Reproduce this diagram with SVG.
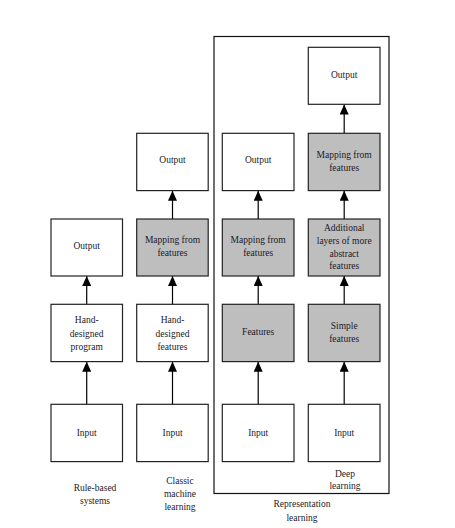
<svg xmlns="http://www.w3.org/2000/svg" width="455" height="528" viewBox="0 0 455 528">
<style>
.box{stroke:#222;stroke-width:1.2;fill:#fff}
.g{fill:#bebebe}
text{font-family:"Liberation Serif","DejaVu Serif",serif;font-size:9.5px;fill:#1a1a2a;text-anchor:middle}
.c line{stroke:#000;stroke-width:1.2}
</style>
<defs>
<marker id="ah" markerWidth="10" markerHeight="9" refX="10" refY="4.5" orient="auto" markerUnits="userSpaceOnUse" viewBox="0 0 10 9">
<path d="M0,0 L10,4.5 L0,9 Z" fill="#000"/>
</marker>
</defs>
<rect width="455" height="528" fill="#fff"/>
<g id="frame"><rect x="214" y="36.5" width="175" height="457" fill="none" stroke="#111" stroke-width="1.2"/></g>
<g class="c" id="connectors">
<line x1="86.7" y1="404.3" x2="86.7" y2="361.7" marker-end="url(#ah)"/>
<line x1="86.7" y1="304.3" x2="86.7" y2="276" marker-end="url(#ah)"/>
<line x1="172.5" y1="404.3" x2="172.5" y2="361.7" marker-end="url(#ah)"/>
<line x1="172.5" y1="304.3" x2="172.5" y2="276" marker-end="url(#ah)"/>
<line x1="172.5" y1="219" x2="172.5" y2="190.7" marker-end="url(#ah)"/>
<line x1="258.2" y1="404.3" x2="258.2" y2="361.7" marker-end="url(#ah)"/>
<line x1="258.2" y1="304.3" x2="258.2" y2="276" marker-end="url(#ah)"/>
<line x1="258.2" y1="219" x2="258.2" y2="190.7" marker-end="url(#ah)"/>
<line x1="344.2" y1="404.3" x2="344.2" y2="361.7" marker-end="url(#ah)"/>
<line x1="344.2" y1="304.3" x2="344.2" y2="276" marker-end="url(#ah)"/>
<line x1="344.2" y1="219" x2="344.2" y2="190.7" marker-end="url(#ah)"/>
<line x1="344.2" y1="133.3" x2="344.2" y2="104.5" marker-end="url(#ah)"/>
</g>
<!-- column 1 -->
<g id="rb-input"><rect class="box" x="51" y="404.3" width="71.5" height="57.3"/><text x="86.7" y="435.5">Input</text></g>
<g id="rb-program"><rect class="box" x="51" y="304.3" width="71.5" height="57.3"/><text x="86.7" y="323">Hand-</text><text x="86.7" y="336.5">designed</text><text x="86.7" y="349.5">program</text></g>
<g id="rb-output"><rect class="box" x="51" y="219" width="71.5" height="57"/><text x="86.7" y="248.5">Output</text></g>
<!-- column 2 -->
<g id="cml-input"><rect class="box" x="136.7" y="404.3" width="71.5" height="57.3"/><text x="172.5" y="435.5">Input</text></g>
<g id="cml-features"><rect class="box" x="136.7" y="304.3" width="71.5" height="57.3"/><text x="172.5" y="323">Hand-</text><text x="172.5" y="336.5">designed</text><text x="172.5" y="349.5">features</text></g>
<g id="cml-mapping"><rect class="box g" x="136.7" y="219" width="71.5" height="57"/><text x="172.5" y="243">Mapping from</text><text x="172.5" y="256">features</text></g>
<g id="cml-output"><rect class="box" x="136.7" y="133.3" width="71.5" height="57.3"/><text x="172.5" y="163">Output</text></g>
<!-- column 3 -->
<g id="rl-input"><rect class="box" x="222.3" y="404.3" width="71.7" height="57.3"/><text x="258.2" y="435.5">Input</text></g>
<g id="rl-features"><rect class="box g" x="222.3" y="304.3" width="71.7" height="57.3"/><text x="258.2" y="335">Features</text></g>
<g id="rl-mapping"><rect class="box g" x="222.3" y="219" width="71.7" height="57"/><text x="258.2" y="243">Mapping from</text><text x="258.2" y="256">features</text></g>
<g id="rl-output"><rect class="box" x="222.3" y="133.3" width="71.7" height="57.3"/><text x="258.2" y="163">Output</text></g>
<!-- column 4 -->
<g id="dl-input"><rect class="box" x="308.3" y="404.3" width="71.7" height="57.3"/><text x="344.2" y="435.5">Input</text></g>
<g id="dl-simple"><rect class="box g" x="308.3" y="304.3" width="71.7" height="57.3"/><text x="344.2" y="329">Simple</text><text x="344.2" y="341.5">features</text></g>
<g id="dl-additional"><rect class="box g" x="308.3" y="219" width="71.7" height="57"/><text x="344.2" y="231">Additional</text><text x="344.2" y="244">layers of more</text><text x="344.2" y="256.5">abstract</text><text x="344.2" y="269">features</text></g>
<g id="dl-mapping"><rect class="box g" x="308.3" y="133.3" width="71.7" height="57.3"/><text x="344.2" y="157.5">Mapping from</text><text x="344.2" y="170.5">features</text></g>
<g id="dl-output"><rect class="box" x="308.3" y="47.3" width="71.7" height="57"/><text x="344.2" y="77.5">Output</text></g>
<!-- captions -->
<g id="labels">
<text x="95" y="491">Rule-based</text><text x="95" y="504">systems</text>
<text x="180" y="484">Classic</text><text x="180" y="497">machine</text><text x="180" y="509.5">learning</text>
<text x="345" y="476.5">Deep</text><text x="345" y="489">learning</text>
<text x="302" y="507">Representation</text><text x="302" y="520.5">learning</text>
</g>
</svg>
